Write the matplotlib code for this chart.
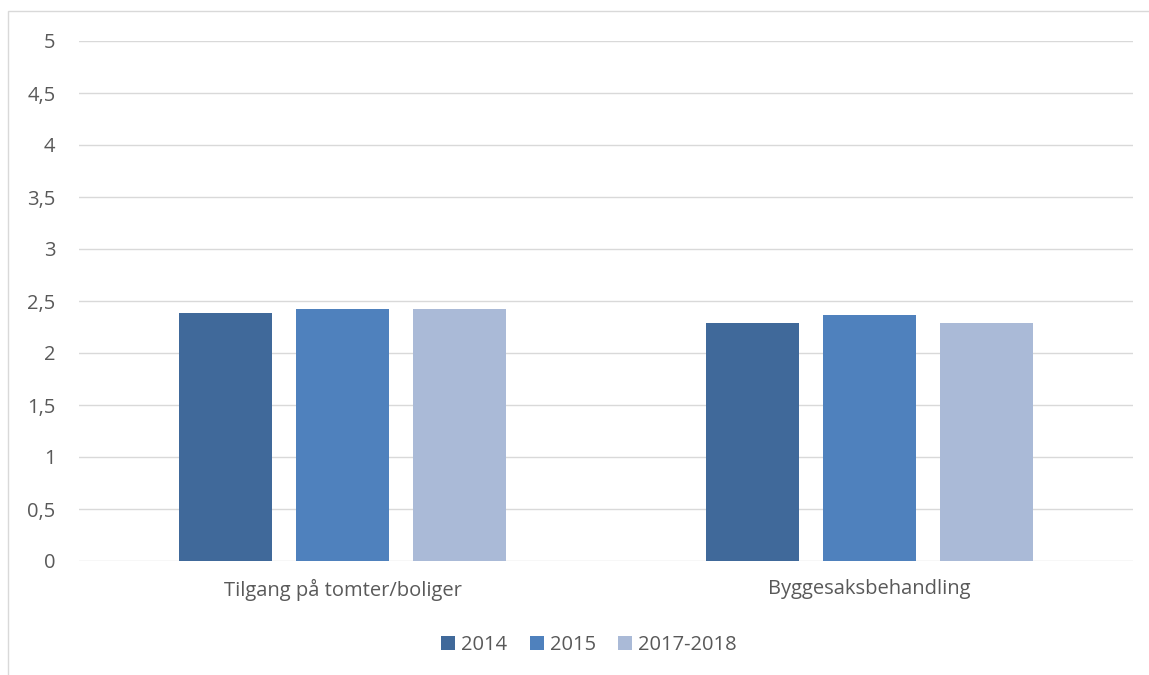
import numpy as np
import matplotlib.pyplot as plt
from matplotlib.patches import Rectangle
from matplotlib.ticker import FuncFormatter

plt.rcParams['font.family'] = ['Open Sans', 'DejaVu Sans']

kategorier = ['Tilgang på tomter/boliger', 'Byggesaksbehandling']
serier = ['2014', '2015', '2017-2018']
verdier = [[2.38, 2.29],
           [2.42, 2.37],
           [2.42, 2.29]]
farger = ['#40699A', '#4F81BD', '#AABAD7']
tekstfarge = '#595959'
fs = 14.5

fig = plt.figure(figsize=(11.49, 6.75), dpi=100)
ax = fig.add_axes([79/1149, 1-561/675, (1133-79)/1149, (561-41)/675])

# ramme rundt hele diagrammet
fig.patches.append(Rectangle((8/1149, -0.1), 1.2, 1-11/675+0.1,
                             transform=fig.transFigure, fill=False,
                             edgecolor='#D9D9D9', linewidth=1))

x = np.arange(len(kategorier))
bredde = 0.175
steg = 0.222
for i in range(len(serier)):
    ax.bar(x + (i-1)*steg, verdier[i], width=bredde, color=farger[i],
           label=serier[i], zorder=3)

ax.set_xlim(-0.5, 1.5)
ax.set_ylim(0, 5)
ax.set_yticks(np.arange(0, 5.01, 0.5))
ax.yaxis.set_major_formatter(FuncFormatter(lambda v, p: ('%g' % v).replace('.', ',')))
ax.grid(axis='y', color='#D9D9D9', linewidth=1, zorder=0)
ax.set_xticks(x)
ax.set_xticklabels(kategorier)
ax.tick_params(axis='both', length=0, labelsize=fs, colors=tekstfarge)
ax.tick_params(axis='x', pad=13)
ax.tick_params(axis='y', pad=17)
for s in ax.spines.values():
    s.set_visible(False)

ax.legend(loc='center', bbox_to_anchor=(0.484, -0.162), ncol=3, frameon=False,
          fontsize=fs, labelcolor=tekstfarge, handlelength=0.7, handleheight=0.7,
          handletextpad=0.3, columnspacing=1.1)

fig.savefig('out.png', dpi=100)
